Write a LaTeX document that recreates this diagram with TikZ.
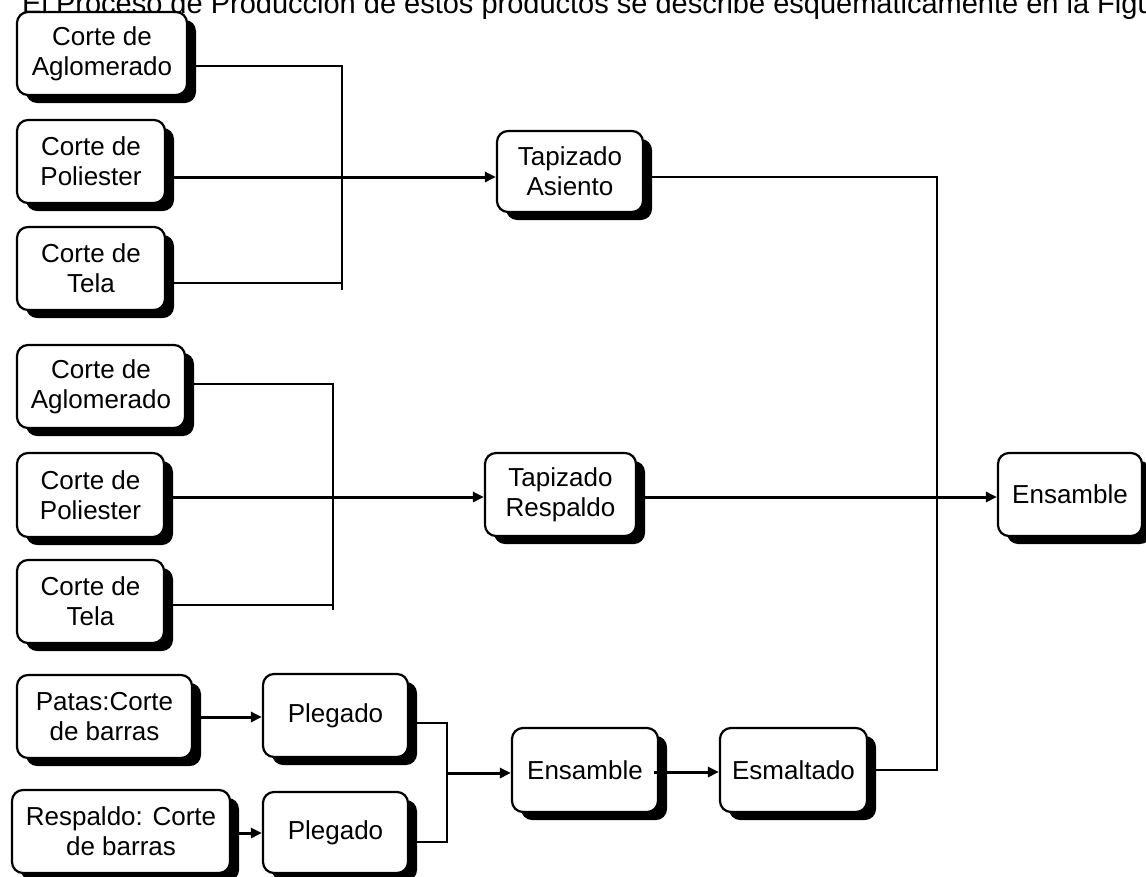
\documentclass[tikz,border=0pt]{standalone}
\usepackage{fontspec}
\setmainfont{Liberation Sans}
\usetikzlibrary{arrows.meta,shadows}
\begin{document}
\begin{tikzpicture}[x=1pt,y=-1pt,
  box/.style={draw=black, line width=2.2pt, fill=white, rounded corners=11pt,
    align=center, inner sep=0pt, font=\fontsize{26}{30}\selectfont,
    drop shadow={shadow xshift=9pt, shadow yshift=-8pt, opacity=1, fill=black}},
  conn/.style={line width=2pt},
  arr/.style={line width=3pt, -{Triangle[length=11pt,width=10pt]}}]
\useasboundingbox (0,0) rectangle (1146,876);
\clip (0,0) rectangle (1146,876);
\node[anchor=base west, inner sep=0pt, font=\fontsize{29}{34}\selectfont] (title) at (22,13)
  {El Proceso de Producción de estos productos se describe esquemáticamente en la Figura};
% group 1
\node[box, minimum width=170pt, minimum height=83pt] (b1) at (102,53.5) {Corte de\\Aglomerado};
\node[box, minimum width=148pt, minimum height=83pt] (b2) at (91,161.5) {Corte de\\Poliester};
\node[box, minimum width=148pt, minimum height=83pt] (b3) at (91,268.5) {Corte de\\Tela};
\node[box, minimum width=146pt, minimum height=81pt] (tas) at (570,171.5) {Tapizado\\Asiento};
% group 2
\node[box, minimum width=168pt, minimum height=83pt] (b4) at (101,386.5) {Corte de\\Aglomerado};
\node[box, minimum width=147pt, minimum height=84pt] (b5) at (90.5,495) {Corte de\\Poliester};
\node[box, minimum width=147pt, minimum height=83pt] (b6) at (90.5,601.5) {Corte de\\Tela};
\node[box, minimum width=151pt, minimum height=83pt] (tre) at (560.5,494.5) {Tapizado\\Respaldo};
\node[box, minimum width=144pt, minimum height=83pt] (ens) at (1070,494.5) {Ensamble};
% group 3
\node[box, minimum width=175pt, minimum height=83pt] (pat) at (104.5,716.5) {Patas:Corte\\de barras};
\node[box, minimum width=145pt, minimum height=83pt] (ple1) at (335.5,715.5) {Plegado};
\node[box, minimum width=218pt, minimum height=83pt] (res) at (121,831.5) {Respaldo: Corte\\de barras};
\node[box, minimum width=145pt, minimum height=81pt] (ple2) at (335.5,832.5) {Plegado};
\node[box, minimum width=146pt, minimum height=84pt] (ensb) at (585,770) {Ensamble};
\node[box, minimum width=147pt, minimum height=84pt] (esm) at (793.5,770) {Esmaltado};
% junction coordinates
\coordinate (j1a) at (342,66);
\coordinate (j1b) at (342,290);
\coordinate (j1c) at (342,283);
\coordinate (r1) at (0,177);
\coordinate (j2a) at (333,384);
\coordinate (j2b) at (333,610);
\coordinate (j2c) at (333,605);
\coordinate (r2) at (0,497);
\coordinate (bt) at (937,177);
\coordinate (bb) at (937,770);
\coordinate (r3) at (0,717);
\coordinate (r4) at (0,833);
\coordinate (j3a) at (447,723);
\coordinate (j3b) at (447,842);
\coordinate (j3m) at (447,773);
\coordinate (r5) at (0,772);
% group 1 connectors
\draw[conn] (b1.east |- j1a) -- (j1a) -- (j1b);
\draw[conn] (b3.east |- j1c) -- (j1c);
\draw[arr] (b2.east |- r1) -- (tas.west |- r1);
% group 2 connectors
\draw[conn] (b4.east |- j2a) -- (j2a) -- (j2b);
\draw[conn] (b6.east |- j2c) -- (j2c);
\draw[arr] (b5.east |- r2) -- (tre.west |- r2);
\draw[arr] (tre.east |- r2) -- (ens.west |- r2);
% right bus
\draw[conn] (tas.east |- bt) -- (bt) -- (bb) -- (esm.east |- bb);
% group 3 connectors
\draw[arr] (pat.east |- r3) -- (ple1.west |- r3);
\draw[arr] (res.east |- r4) -- (ple2.west |- r4);
\draw[conn] (ple1.east |- j3a) -- (j3a) -- (j3b) -- (ple2.east |- j3b);
\draw[arr] (j3m) -- (ensb.west |- j3m);
\draw[arr] ([xshift=-5pt]ensb.east |- r5) -- (esm.west |- r5);
\end{tikzpicture}
\end{document}
